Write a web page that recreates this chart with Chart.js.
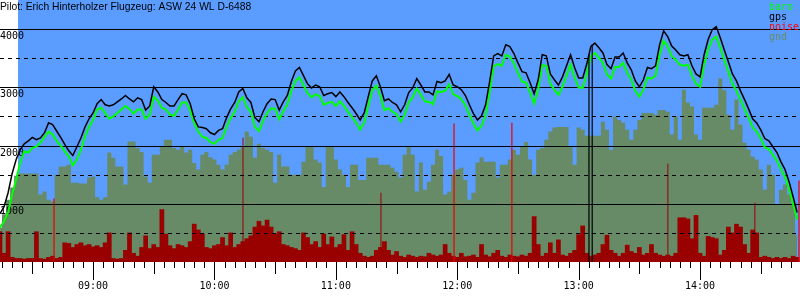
<!DOCTYPE html>
<html><head><meta charset="utf-8">
<script src="https://cdn.jsdelivr.net/npm/chart.js@4/dist/chart.umd.min.js"></script>
<style>html,body{margin:0;padding:0;background:#fff;}#wrap{width:800px;height:300px;position:relative;}</style>
</head><body><div id="wrap"><canvas id="c" width="800" height="300"></canvas></div>
<script>
const titleText = "Pilot: Erich Hinterholzer Flugzeug: ASW 24 WL D-6488";
const legendNames = ["baro", "gps", "noise", "gnd"];
const xRange = ["08:14:00", "14:49:24"];
const yRange = [0, 4500];
const yGridSolid = [1000, 2000, 3000, 4000];
const yGridDashed = [500, 1500, 2500, 3500];
const yTickLabels = ["1000", "2000", "3000", "4000"];
const hourLabels = ["09:00", "10:00", "11:00", "12:00", "13:00", "14:00"];

const times = [
"08:14","08:16","08:18","08:20","08:22","08:24","08:26","08:28","08:30","08:32","08:34","08:36","08:38","08:40","08:42","08:44","08:46","08:48","08:50","08:52","08:54","08:56","08:58",
"09:00","09:02","09:04","09:06","09:08","09:10","09:12","09:14","09:16","09:18","09:20","09:22","09:24","09:26","09:28","09:30","09:32","09:34","09:36","09:38","09:40","09:42","09:44","09:46","09:48","09:50","09:52","09:54","09:56","09:58",
"10:00","10:02","10:04","10:06","10:08","10:10","10:12","10:14","10:16","10:18","10:20","10:22","10:24","10:26","10:28","10:30","10:32","10:34","10:36","10:38","10:40","10:42","10:44","10:46","10:48","10:50","10:52","10:54","10:56","10:58",
"11:00","11:02","11:04","11:06","11:08","11:10","11:12","11:14","11:16","11:18","11:20","11:22","11:24","11:26","11:28","11:30","11:32","11:34","11:36","11:38","11:40","11:42","11:44","11:46","11:48","11:50","11:52","11:54","11:56","11:58",
"12:00","12:02","12:04","12:06","12:08","12:10","12:12","12:14","12:16","12:18","12:20","12:22","12:24","12:26","12:28","12:30","12:32","12:34","12:36","12:38","12:40","12:42","12:44","12:46","12:48","12:50","12:52","12:54","12:56","12:58",
"13:00","13:02","13:04","13:06","13:08","13:10","13:12","13:14","13:16","13:18","13:20","13:22","13:24","13:26","13:28","13:30","13:32","13:34","13:36","13:38","13:40","13:42","13:44","13:46","13:48","13:50","13:52","13:54","13:56","13:58",
"14:00","14:02","14:04","14:06","14:08","14:10","14:12","14:14","14:16","14:18","14:20","14:22","14:24","14:26","14:28","14:30","14:32","14:34","14:36","14:38","14:40","14:42","14:44","14:46","14:48"
];

const gps = [
830,950,1190,1520,1760,1930,2030,2080,2140,2100,
2130,2220,2390,2360,2250,2140,2020,1910,1830,1980,
2130,2320,2460,2560,2720,2790,2700,2680,2700,2750,
2800,2860,2800,2750,2820,2790,2610,2680,3010,2920,
2790,2740,2680,2680,2790,2890,2870,2720,2460,2320,
2310,2290,2220,2190,2260,2290,2480,2630,2740,2920,
2980,2820,2740,2480,2410,2580,2720,2800,2790,2610,
2750,2860,3100,3280,3340,3200,3060,2990,3040,3010,
2860,2890,2910,2840,2920,2840,2740,2650,2550,2440,
2560,2840,3110,3200,3010,2770,2800,2740,2700,2580,
2700,2910,2990,3150,3040,2920,2920,2870,3100,3080,
3110,3220,3040,3010,2960,2860,2700,2550,2440,2510,
2700,3100,3540,3580,3540,3730,3700,3580,3420,3270,
3250,3080,2890,3130,3560,3540,3230,3130,3040,3180,
3370,3560,3340,3160,3160,3400,3700,3760,3680,3590,
3390,3320,3520,3520,3590,3420,3300,3110,3010,3130,
3340,3320,3370,3730,3970,3870,3710,3640,3560,3540,
3560,3370,3230,3180,3560,3820,3990,4040,3850,3640,
3440,3230,3110,2940,2790,2630,2460,2390,2270,2120,
2080,1980,1880,1720,1590,1380,1120,850
];

const baro = [
590,700,850,1160,1420,1710,1900,1880,1960,1980,
2050,2150,2240,2190,2080,2000,1900,1810,1660,1760,
1930,2150,2320,2440,2620,2650,2560,2460,2500,2560,
2620,2680,2630,2550,2620,2620,2460,2530,2840,2770,
2650,2620,2530,2510,2620,2740,2740,2600,2380,2240,
2150,2130,2060,2030,2100,2130,2320,2470,2580,2760,
2830,2660,2580,2320,2250,2420,2560,2640,2630,2450,
2590,2700,2940,3110,3170,3040,2900,2830,2880,2850,
2700,2730,2750,2680,2760,2680,2580,2490,2390,2270,
2390,2680,2950,3030,2850,2610,2640,2580,2540,2410,
2530,2740,2830,2980,2870,2760,2750,2710,2930,2920,
2940,3050,2880,2850,2800,2690,2530,2380,2260,2340,
2520,2920,3360,3400,3370,3560,3530,3410,3250,3100,
3080,2910,2720,2960,3380,3370,3060,2960,2870,3010,
3200,3390,3170,3000,2990,3230,3530,3590,3510,3420,
3220,3150,3350,3350,3420,3250,3130,2940,2840,2960,
3170,3150,3200,3560,3800,3700,3540,3470,3390,3370,
3390,3200,3060,3010,3390,3650,3820,3870,3680,3470,
3270,3060,2940,2780,2630,2470,2310,2240,2120,1970,
1940,1840,1740,1590,1460,1250,990,730
];

const gnd = [
590,820,1070,1280,1480,1520,1520,1520,1520,1520,
1160,1210,1070,1040,1500,1640,1640,1670,1360,1360,
1350,1350,1450,1470,1110,1070,1110,1880,1790,1640,
1640,1330,2070,2070,1960,1890,1470,1360,1840,1840,
1980,2100,2100,1960,1930,1980,1880,1930,1700,1590,
1840,1890,1800,1760,1670,1590,1670,1840,1890,1930,
1980,2240,2150,1790,2030,1960,1930,1890,1360,1840,
1640,1640,1500,1500,1500,1720,1980,1980,1760,1710,
1290,1980,1980,1760,1590,1500,1290,1670,1670,1410,
1410,1790,1790,1790,1670,1670,1670,1620,1550,1450,
1840,1980,1840,1210,1710,1240,1380,1670,1930,1820,
1160,1210,1500,1590,1620,1410,1070,1190,1710,1800,
1720,1720,1720,1450,1670,1670,1760,1930,1840,1980,
2060,1760,1500,1930,1960,2100,2240,2310,2320,2320,
2320,1980,1670,2310,2270,2170,2170,2170,2170,2410,
2270,1930,2500,2440,2390,2270,2100,2270,2440,2560,
2560,2560,2530,2610,2610,2580,2190,2500,2100,2960,
2740,2670,2190,2100,2650,2650,2650,2700,3150,2950,
2530,2270,2790,2360,2050,1930,1810,1760,1590,1240,
1670,1500,990,1240,1330,1160,990,470
];

const noise = [
520,150,520,80,60,60,50,60,60,520,
60,50,80,100,60,80,330,320,250,300,
330,280,300,260,280,250,330,500,60,50,
60,200,500,150,100,250,450,230,300,250,
900,480,280,230,300,280,250,350,650,550,
480,250,230,280,300,420,280,500,250,300,
350,400,450,600,700,620,720,600,480,520,
300,280,250,230,200,500,420,300,350,250,
480,300,430,250,300,470,200,520,300,150,
100,80,100,200,250,350,200,120,180,100,
80,120,100,80,100,90,150,120,100,120,
300,150,100,80,150,90,100,120,80,300,
120,90,150,200,100,80,120,100,90,120,
100,150,780,300,100,150,330,150,380,120,
100,150,200,470,620,150,100,120,150,300,
460,200,150,100,150,290,180,150,250,120,
150,300,150,120,100,120,100,150,760,760,
740,400,800,150,100,440,420,400,120,200,
600,500,650,600,300,150,550,500,80,100,
80,60,80,60,80,60,100,80
];

const noisePeakTimes = ["10:14:06", "11:22:18", "13:44:06", "14:27:06"];
const noisePeakValues = [2135, 1190, 1690, 1020];
const noiseAlarmTimes = ["08:40:42", "11:58:24", "12:27:00", "14:48:54"];
const noiseAlarmValues = [1090, 2380, 2390, 1400];
const gpsDropTimes = ["13:05:06", "13:06:42"];
const gpsDropTops = [3560, 3740];

function toMin(s) {
  const p = s.split(":").map(Number);
  return p[0] * 60 + p[1] + (p[2] || 0) / 60;
}
function pairs(ts, vs) { return ts.map((t, i) => ({ x: toMin(t), y: vs[i] })); }
function verticals(ts, vs) {
  const out = [];
  ts.forEach((t, i) => { const x = toMin(t); out.push({ x, y: 0 }, { x, y: vs[i] }, { x, y: null }); });
  return out;
}

const BLUE = "#5a9cff", OLIVE = "#668b66", DARKRED = "#990000";
const MONO = "DejaVu Sans Mono";

const decor = {
  id: "decor",
  beforeDraw(chart) {
    const { ctx, chartArea } = chart;
    ctx.save();
    ctx.fillStyle = "#fff";
    ctx.fillRect(0, 0, chart.width, chart.height);
    ctx.fillStyle = BLUE;
    ctx.fillRect(chartArea.left + 18, 0, chartArea.right - chartArea.left - 18, chartArea.bottom);
    ctx.restore();
  },
  beforeDatasetDraw(chart, args) {
    if (chart.data.datasets[args.index].label !== "baro") return;
    const { ctx, chartArea } = chart;
    const ys = chart.scales.y;
    ctx.save();
    ctx.strokeStyle = "#000";
    ctx.lineWidth = 1;
    yGridDashed.forEach(v => {
      const py = Math.round(ys.getPixelForValue(v)) + 0.5;
      ctx.setLineDash([4, 4]);
      ctx.beginPath(); ctx.moveTo(chartArea.left, py); ctx.lineTo(chartArea.right, py); ctx.stroke();
    });
    ctx.setLineDash([]);
    yGridSolid.forEach(v => {
      const py = Math.round(ys.getPixelForValue(v)) + 0.5;
      ctx.beginPath(); ctx.moveTo(chartArea.left, py); ctx.lineTo(chartArea.right, py); ctx.stroke();
    });
    ctx.fillStyle = "#000";
    ctx.font = "10px '" + MONO + "'";
    ctx.textBaseline = "top";
    ctx.textAlign = "left";
    yTickLabels.forEach(l => {
      const py = Math.round(ys.getPixelForValue(Number(l)));
      ctx.fillText(l, chartArea.left + 0, py + 2);
    });
    ctx.restore();
  },
  afterDraw(chart) {
    const { ctx, chartArea } = chart;
    const xs = chart.scales.x;
    const base = chartArea.bottom;
    ctx.save();
    ctx.strokeStyle = "#000";
    ctx.lineWidth = 1;
    for (let m = Math.ceil(xs.min / 5) * 5; m <= xs.max; m += 5) {
      const px = Math.round(xs.getPixelForValue(m)) + 0.5;
      const len = m % 60 === 0 ? 18 : (m % 30 === 0 ? 12 : 6);
      ctx.beginPath(); ctx.moveTo(px, base); ctx.lineTo(px, base + len); ctx.stroke();
    }
    ctx.fillStyle = "#000";
    ctx.font = "10px '" + MONO + "'";
    ctx.textAlign = "center";
    ctx.textBaseline = "middle";
    hourLabels.forEach(h => {
      ctx.fillText(h, xs.getPixelForValue(toMin(h)), base + 24);
    });
    // title
    ctx.textAlign = "left";
    ctx.textBaseline = "top";
    ctx.font = "10.3px 'Liberation Sans'";
    ctx.fillText(titleText, 0, 2);
    // legend
    const colors = { baro: "#00ff00", gps: "#000000", noise: "#ff0000", gnd: OLIVE };
    ctx.font = "10px '" + MONO + "'";
    ctx.textBaseline = "middle";
    legendNames.forEach((n, i) => {
      ctx.fillStyle = colors[n];
      ctx.fillText(n, 769, 7 + i * 10);
    });
    ctx.restore();
  }
};

new Chart(document.getElementById("c"), {
  type: "line",
  data: {
    datasets: [
      { label: "gnd", data: pairs(times, gnd), stepped: "middle", fill: "origin",
        backgroundColor: OLIVE, borderColor: "rgba(0,0,0,0)", borderWidth: 0, pointRadius: 0, order: 10 },
      { type: "bar", label: "noise", data: pairs(times, noise), backgroundColor: DARKRED,
        borderWidth: 0, barPercentage: 1, categoryPercentage: 1, order: 9 },
      { label: "noisePeaks", data: verticals(noisePeakTimes, noisePeakValues), borderColor: DARKRED,
        borderWidth: 1, pointRadius: 0, spanGaps: false, fill: false, order: 8 },
      { label: "noiseAlarms", data: verticals(noiseAlarmTimes, noiseAlarmValues), borderColor: "#ee0000",
        borderWidth: 1.2, pointRadius: 0, spanGaps: false, fill: false, order: 7 },
      { label: "baro", data: pairs(times, baro), borderColor: "#00ff00", borderWidth: 2,
        pointRadius: 0, fill: false, tension: 0, order: 3 },
      { label: "gpsDrop", data: verticals(gpsDropTimes, gpsDropTops), borderColor: "#000",
        borderWidth: 1.2, pointRadius: 0, spanGaps: false, fill: false, order: 2 },
      { label: "gps", data: pairs(times, gps), borderColor: "#000", borderWidth: 1.5,
        pointRadius: 0, fill: false, tension: 0, order: 1 }
    ]
  },
  options: {
    responsive: false,
    animation: false,
    devicePixelRatio: 1,
    layout: { padding: { left: 0, right: 0, top: 0, bottom: 38 } },
    plugins: { legend: { display: false }, tooltip: { enabled: false }, title: { display: false } },
    events: [],
    scales: {
      x: { type: "linear", display: false, offset: false, min: toMin(xRange[0]), max: toMin(xRange[1]) },
      y: { type: "linear", display: false, min: yRange[0], max: yRange[1] }
    }
  },
  plugins: [decor]
});
</script>
</body></html>
